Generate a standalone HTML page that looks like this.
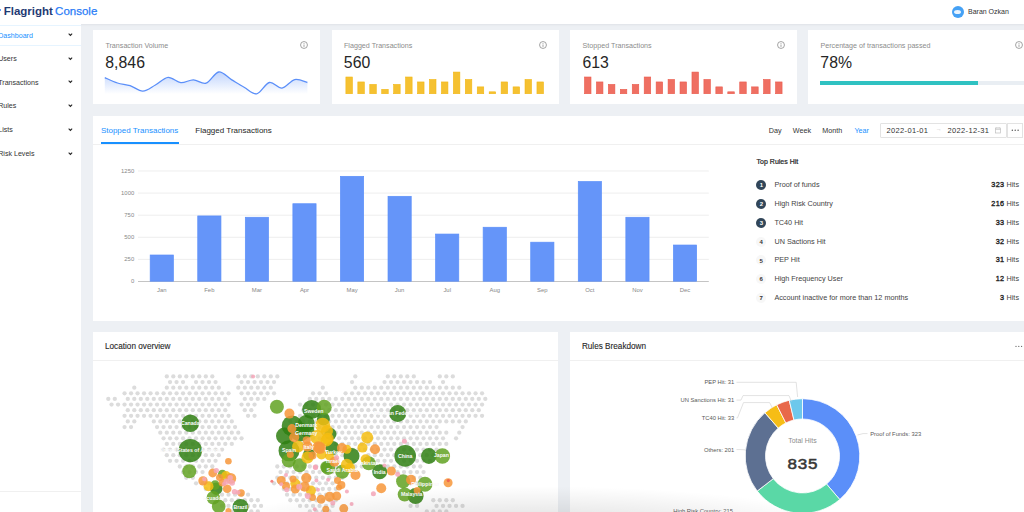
<!DOCTYPE html>
<html><head><meta charset="utf-8">
<style>
*{box-sizing:border-box;margin:0;padding:0}
html,body{width:1024px;height:512px;overflow:hidden;background:#edf0f4;font-family:"Liberation Sans",Arial,sans-serif;color:#262626}
.abs{position:absolute}
.tx{position:absolute;line-height:1;white-space:nowrap}
.card{position:absolute;background:#fff}
svg{position:absolute;overflow:visible}
svg text{font-family:"Liberation Sans",Arial,sans-serif}
</style></head><body>

<div class="abs" style="left:0;top:0;width:1024px;height:24px;background:#fff;box-shadow:0 1px 2px rgba(0,21,41,0.06)"></div>
<div class="abs" style="left:-1.2px;top:8.8px;width:2.6px;height:2.6px;border-radius:50%;background:#2f7bf5"></div>
<div class="tx" style="left:3.7px;top:6.3px;font-size:11.5px;letter-spacing:0px"><span style="font-weight:bold;color:#1f3a73">Flagright</span><span style="color:#2a7cf7;margin-left:2.2px;-webkit-text-stroke:0.25px #2a7cf7">Console</span></div>
<div class="abs" style="left:951.8px;top:5.9px;width:12px;height:12px;border-radius:50%;background:#45a1f5"></div>
<div class="abs" style="left:954.3px;top:10px;width:7px;height:4px;border-radius:50%;background:#e9f4ff"></div>
<div class="tx" style="left:968px;top:8.3px;font-size:7px;color:#333">Baran Ozkan</div>
<div class="abs" style="left:0;top:24px;width:81px;height:488px;background:#fff"></div>
<div class="abs" style="left:0;top:25px;width:81px;height:21px;border-top:1px solid #e6f4ff;border-bottom:1px solid #e6f4ff"></div>
<div class="abs" style="left:0;top:491px;width:81px;height:1px;background:#f0f0f0"></div>
<div class="tx" style="left:-1.8px;top:32.8px;font-size:7.1px;color:#1890ff">Dashboard</div>
<svg style="left:67.7px;top:33.4px" width="4.8" height="3.2" viewBox="0 0 4.8 3.2"><path d="M0.65 0.65 L2.4 2.4 L4.15 0.65" fill="none" stroke="#262626" stroke-width="1.05"/></svg>
<div class="tx" style="left:-1.8px;top:56.3px;font-size:7.1px;color:#333">Users</div>
<svg style="left:67.7px;top:56.9px" width="4.8" height="3.2" viewBox="0 0 4.8 3.2"><path d="M0.65 0.65 L2.4 2.4 L4.15 0.65" fill="none" stroke="#262626" stroke-width="1.05"/></svg>
<div class="tx" style="left:-1.8px;top:79.6px;font-size:7.1px;color:#333">Transactions</div>
<svg style="left:67.7px;top:80.2px" width="4.8" height="3.2" viewBox="0 0 4.8 3.2"><path d="M0.65 0.65 L2.4 2.4 L4.15 0.65" fill="none" stroke="#262626" stroke-width="1.05"/></svg>
<div class="tx" style="left:-1.8px;top:103.4px;font-size:7.1px;color:#333">Rules</div>
<svg style="left:67.7px;top:104.0px" width="4.8" height="3.2" viewBox="0 0 4.8 3.2"><path d="M0.65 0.65 L2.4 2.4 L4.15 0.65" fill="none" stroke="#262626" stroke-width="1.05"/></svg>
<div class="tx" style="left:-1.8px;top:127.2px;font-size:7.1px;color:#333">Lists</div>
<svg style="left:67.7px;top:127.8px" width="4.8" height="3.2" viewBox="0 0 4.8 3.2"><path d="M0.65 0.65 L2.4 2.4 L4.15 0.65" fill="none" stroke="#262626" stroke-width="1.05"/></svg>
<div class="tx" style="left:-1.8px;top:151.0px;font-size:7.1px;color:#333">Risk Levels</div>
<svg style="left:67.7px;top:151.6px" width="4.8" height="3.2" viewBox="0 0 4.8 3.2"><path d="M0.65 0.65 L2.4 2.4 L4.15 0.65" fill="none" stroke="#262626" stroke-width="1.05"/></svg>
<div class="card" style="left:93px;top:30px;width:227px;height:74px"></div>
<div class="tx" style="left:105.4px;top:42.9px;font-size:7.15px;color:#8c8c8c">Transaction Volume</div>
<div class="tx" style="left:105.2px;top:54.7px;font-size:15.8px;letter-spacing:0.05px;color:#262626">8,846</div>
<svg style="left:300.00px;top:41.20px" width="8" height="8" viewBox="0 0 8 8"><circle cx="4" cy="4" r="3.45" fill="none" stroke="#8c8c8c" stroke-width="0.8"/><rect x="3.6" y="3.5" width="0.8" height="2.4" fill="#8c8c8c"/><rect x="3.6" y="2.1" width="0.8" height="0.8" fill="#8c8c8c"/></svg>
<div class="card" style="left:331.6px;top:30px;width:227px;height:74px"></div>
<div class="tx" style="left:344.0px;top:42.9px;font-size:7.15px;color:#8c8c8c">Flagged Transactions</div>
<div class="tx" style="left:343.8px;top:54.7px;font-size:15.8px;letter-spacing:0.05px;color:#262626">560</div>
<svg style="left:538.60px;top:41.20px" width="8" height="8" viewBox="0 0 8 8"><circle cx="4" cy="4" r="3.45" fill="none" stroke="#8c8c8c" stroke-width="0.8"/><rect x="3.6" y="3.5" width="0.8" height="2.4" fill="#8c8c8c"/><rect x="3.6" y="2.1" width="0.8" height="0.8" fill="#8c8c8c"/></svg>
<div class="card" style="left:570.2px;top:30px;width:227px;height:74px"></div>
<div class="tx" style="left:582.6px;top:42.9px;font-size:7.15px;color:#8c8c8c">Stopped Transactions</div>
<div class="tx" style="left:582.4px;top:54.7px;font-size:15.8px;letter-spacing:0.05px;color:#262626">613</div>
<svg style="left:777.20px;top:41.20px" width="8" height="8" viewBox="0 0 8 8"><circle cx="4" cy="4" r="3.45" fill="none" stroke="#8c8c8c" stroke-width="0.8"/><rect x="3.6" y="3.5" width="0.8" height="2.4" fill="#8c8c8c"/><rect x="3.6" y="2.1" width="0.8" height="0.8" fill="#8c8c8c"/></svg>
<div class="card" style="left:808.1px;top:30px;width:227px;height:74px"></div>
<div class="tx" style="left:820.5px;top:42.9px;font-size:7.15px;color:#8c8c8c">Percentage of transactions passed</div>
<div class="tx" style="left:820.3px;top:54.7px;font-size:15.8px;letter-spacing:0.05px;color:#262626">78%</div>
<svg style="left:1015.10px;top:41.20px" width="8" height="8" viewBox="0 0 8 8"><circle cx="4" cy="4" r="3.45" fill="none" stroke="#8c8c8c" stroke-width="0.8"/><rect x="3.6" y="3.5" width="0.8" height="2.4" fill="#8c8c8c"/><rect x="3.6" y="2.1" width="0.8" height="0.8" fill="#8c8c8c"/></svg>
<svg style="left:0;top:0" width="1024" height="512" viewBox="0 0 1024 512">
<defs><linearGradient id="sg" x1="0" y1="0" x2="0" y2="1"><stop offset="0" stop-color="#5b8ff9" stop-opacity="0.38"/><stop offset="1" stop-color="#5b8ff9" stop-opacity="0.0"/></linearGradient></defs>
<path d="M104.80 77.60 C106.92 78.50 113.28 81.67 117.50 83.00 C121.72 84.33 125.88 84.25 130.10 85.60 C134.32 86.95 138.58 91.20 142.80 91.10 C147.02 91.00 151.18 87.28 155.40 85.00 C159.62 82.72 163.87 77.78 168.10 77.40 C172.33 77.02 176.58 82.30 180.80 82.70 C185.02 83.10 189.18 79.72 193.40 79.80 C197.62 79.88 201.88 84.50 206.10 83.20 C210.32 81.90 214.48 72.60 218.70 72.00 C222.92 71.40 227.17 77.07 231.40 79.60 C235.63 82.13 239.88 84.83 244.10 87.20 C248.32 89.57 252.48 94.58 256.70 93.80 C260.92 93.02 265.18 83.45 269.40 82.50 C273.62 81.55 277.78 88.58 282.00 88.10 C286.22 87.62 290.47 80.53 294.70 79.60 C298.93 78.67 305.28 82.02 307.40 82.50 L307.4 94 L104.8 94 Z" fill="url(#sg)"/>
<path d="M104.80 77.60 C106.92 78.50 113.28 81.67 117.50 83.00 C121.72 84.33 125.88 84.25 130.10 85.60 C134.32 86.95 138.58 91.20 142.80 91.10 C147.02 91.00 151.18 87.28 155.40 85.00 C159.62 82.72 163.87 77.78 168.10 77.40 C172.33 77.02 176.58 82.30 180.80 82.70 C185.02 83.10 189.18 79.72 193.40 79.80 C197.62 79.88 201.88 84.50 206.10 83.20 C210.32 81.90 214.48 72.60 218.70 72.00 C222.92 71.40 227.17 77.07 231.40 79.60 C235.63 82.13 239.88 84.83 244.10 87.20 C248.32 89.57 252.48 94.58 256.70 93.80 C260.92 93.02 265.18 83.45 269.40 82.50 C273.62 81.55 277.78 88.58 282.00 88.10 C286.22 87.62 290.47 80.53 294.70 79.60 C298.93 78.67 305.28 82.02 307.40 82.50" fill="none" stroke="#5b8ff9" stroke-width="1.3"/>
</svg>
<svg style="left:0;top:0" width="1024" height="512"><rect x="345.90" y="77.01" width="6.5" height="16.69" fill="#f5c131" stroke="#f2b714" stroke-width="0.6"/><rect x="357.84" y="81.95" width="6.5" height="11.75" fill="#f5c131" stroke="#f2b714" stroke-width="0.6"/><rect x="369.78" y="84.42" width="6.5" height="9.28" fill="#f5c131" stroke="#f2b714" stroke-width="0.6"/><rect x="381.72" y="89.36" width="6.5" height="4.34" fill="#f5c131" stroke="#f2b714" stroke-width="0.6"/><rect x="393.66" y="84.42" width="6.5" height="9.28" fill="#f5c131" stroke="#f2b714" stroke-width="0.6"/><rect x="405.61" y="77.01" width="6.5" height="16.69" fill="#f5c131" stroke="#f2b714" stroke-width="0.6"/><rect x="417.55" y="81.95" width="6.5" height="11.75" fill="#f5c131" stroke="#f2b714" stroke-width="0.6"/><rect x="429.49" y="79.48" width="6.5" height="14.22" fill="#f5c131" stroke="#f2b714" stroke-width="0.6"/><rect x="441.43" y="81.95" width="6.5" height="11.75" fill="#f5c131" stroke="#f2b714" stroke-width="0.6"/><rect x="453.37" y="72.07" width="6.5" height="21.63" fill="#f5c131" stroke="#f2b714" stroke-width="0.6"/><rect x="465.31" y="79.48" width="6.5" height="14.22" fill="#f5c131" stroke="#f2b714" stroke-width="0.6"/><rect x="477.25" y="86.89" width="6.5" height="6.81" fill="#f5c131" stroke="#f2b714" stroke-width="0.6"/><rect x="489.19" y="91.83" width="6.5" height="1.87" fill="#f5c131" stroke="#f2b714" stroke-width="0.6"/><rect x="501.14" y="81.95" width="6.5" height="11.75" fill="#f5c131" stroke="#f2b714" stroke-width="0.6"/><rect x="513.08" y="86.89" width="6.5" height="6.81" fill="#f5c131" stroke="#f2b714" stroke-width="0.6"/><rect x="525.02" y="79.48" width="6.5" height="14.22" fill="#f5c131" stroke="#f2b714" stroke-width="0.6"/><rect x="536.96" y="81.95" width="6.5" height="11.75" fill="#f5c131" stroke="#f2b714" stroke-width="0.6"/></svg>
<svg style="left:0;top:0" width="1024" height="512"><rect x="584.50" y="77.01" width="6.5" height="16.69" fill="#ef6f62" stroke="#ea5a4c" stroke-width="0.6"/><rect x="596.44" y="81.95" width="6.5" height="11.75" fill="#ef6f62" stroke="#ea5a4c" stroke-width="0.6"/><rect x="608.38" y="84.42" width="6.5" height="9.28" fill="#ef6f62" stroke="#ea5a4c" stroke-width="0.6"/><rect x="620.32" y="89.36" width="6.5" height="4.34" fill="#ef6f62" stroke="#ea5a4c" stroke-width="0.6"/><rect x="632.26" y="84.42" width="6.5" height="9.28" fill="#ef6f62" stroke="#ea5a4c" stroke-width="0.6"/><rect x="644.21" y="77.01" width="6.5" height="16.69" fill="#ef6f62" stroke="#ea5a4c" stroke-width="0.6"/><rect x="656.15" y="81.95" width="6.5" height="11.75" fill="#ef6f62" stroke="#ea5a4c" stroke-width="0.6"/><rect x="668.09" y="79.48" width="6.5" height="14.22" fill="#ef6f62" stroke="#ea5a4c" stroke-width="0.6"/><rect x="680.03" y="81.95" width="6.5" height="11.75" fill="#ef6f62" stroke="#ea5a4c" stroke-width="0.6"/><rect x="691.97" y="72.07" width="6.5" height="21.63" fill="#ef6f62" stroke="#ea5a4c" stroke-width="0.6"/><rect x="703.91" y="79.48" width="6.5" height="14.22" fill="#ef6f62" stroke="#ea5a4c" stroke-width="0.6"/><rect x="715.85" y="86.89" width="6.5" height="6.81" fill="#ef6f62" stroke="#ea5a4c" stroke-width="0.6"/><rect x="727.79" y="91.83" width="6.5" height="1.87" fill="#ef6f62" stroke="#ea5a4c" stroke-width="0.6"/><rect x="739.74" y="81.95" width="6.5" height="11.75" fill="#ef6f62" stroke="#ea5a4c" stroke-width="0.6"/><rect x="751.68" y="86.89" width="6.5" height="6.81" fill="#ef6f62" stroke="#ea5a4c" stroke-width="0.6"/><rect x="763.62" y="79.48" width="6.5" height="14.22" fill="#ef6f62" stroke="#ea5a4c" stroke-width="0.6"/><rect x="775.56" y="81.95" width="6.5" height="11.75" fill="#ef6f62" stroke="#ea5a4c" stroke-width="0.6"/></svg>
<div class="abs" style="left:820.1px;top:81.3px;width:204px;height:3.6px;background:#e9eef3"></div>
<div class="abs" style="left:820.1px;top:81.3px;width:158.4px;height:3.6px;background:#2fc2c2"></div>
<div class="card" style="left:93px;top:116px;width:940px;height:204.8px"></div>
<div class="abs" style="left:93px;top:144.3px;width:940px;height:1px;background:#f0f0f0"></div>
<div class="tx" style="left:100.9px;top:127px;font-size:8px;color:#1890ff">Stopped Transactions</div>
<div class="abs" style="left:100.9px;top:142.4px;width:78px;height:1.9px;background:#1890ff"></div>
<div class="tx" style="left:195.3px;top:127px;font-size:8px;color:#262626">Flagged Transactions</div>
<div class="tx" style="left:768.7px;top:126.7px;font-size:7.2px;color:#333">Day</div>
<div class="tx" style="left:792.8px;top:126.7px;font-size:7.2px;color:#333">Week</div>
<div class="tx" style="left:822.2px;top:126.7px;font-size:7.2px;color:#333">Month</div>
<div class="tx" style="left:854.4px;top:126.7px;font-size:7.2px;color:#1890ff">Year</div>
<div class="abs" style="left:880.3px;top:122.6px;width:127px;height:15.3px;border:1px solid #e3e3e3;border-radius:1px;background:#fff"></div>
<div class="abs" style="left:1006.5px;top:122.6px;width:16px;height:15.3px;border:1px solid #e3e3e3;background:#fff"></div>
<div class="tx" style="left:886.6px;top:126.5px;font-size:7.5px;color:#333;letter-spacing:0.33px">2022-01-01</div>
<div class="tx" style="left:935.8px;top:126.2px;font-size:6px;color:#bfbfbf">&#8594;</div>
<div class="tx" style="left:947.6px;top:126.5px;font-size:7.5px;color:#333;letter-spacing:0.33px">2022-12-31</div>
<svg style="left:994.6px;top:126.6px" width="6" height="6.4" viewBox="0 0 6 6.4"><rect x="0.4" y="1" width="5.2" height="5" fill="none" stroke="#bfbfbf" stroke-width="0.7"/><line x1="0.4" y1="2.5" x2="5.6" y2="2.5" stroke="#bfbfbf" stroke-width="0.6"/><line x1="1.8" y1="0.2" x2="1.8" y2="1.6" stroke="#bfbfbf" stroke-width="0.6"/><line x1="4.2" y1="0.2" x2="4.2" y2="1.6" stroke="#bfbfbf" stroke-width="0.6"/></svg>
<svg style="left:0;top:0" width="1024" height="512"><g fill="#4a4a4a"><circle cx="1012.3" cy="130.2" r="0.68"/><circle cx="1015.2" cy="130.2" r="0.68"/><circle cx="1018.1" cy="130.2" r="0.68"/></g></svg>
<svg style="left:0;top:0" width="1024" height="512"><line x1="138" y1="171.00" x2="708.8" y2="171.00" stroke="#e6e6e6" stroke-width="0.7"/><text x="134.2" y="172.90" font-size="5.9" fill="#888" text-anchor="end">1250</text><line x1="138" y1="193.10" x2="708.8" y2="193.10" stroke="#e6e6e6" stroke-width="0.7"/><text x="134.2" y="195.00" font-size="5.9" fill="#888" text-anchor="end">1000</text><line x1="138" y1="215.20" x2="708.8" y2="215.20" stroke="#e6e6e6" stroke-width="0.7"/><text x="134.2" y="217.10" font-size="5.9" fill="#888" text-anchor="end">750</text><line x1="138" y1="237.30" x2="708.8" y2="237.30" stroke="#e6e6e6" stroke-width="0.7"/><text x="134.2" y="239.20" font-size="5.9" fill="#888" text-anchor="end">500</text><line x1="138" y1="259.40" x2="708.8" y2="259.40" stroke="#e6e6e6" stroke-width="0.7"/><text x="134.2" y="261.30" font-size="5.9" fill="#888" text-anchor="end">250</text><line x1="138" y1="281.50" x2="708.8" y2="281.50" stroke="#bdbdbd" stroke-width="0.9"/><text x="134.2" y="283.40" font-size="5.9" fill="#888" text-anchor="end">0</text><rect x="150.18" y="255.01" width="23.2" height="26.19" fill="#6595f9" stroke="#5b8ff9" stroke-width="0.7"/><text x="161.78" y="291.60" font-size="5.9" fill="#888" text-anchor="middle">Jan</text><rect x="197.75" y="215.94" width="23.2" height="65.26" fill="#6595f9" stroke="#5b8ff9" stroke-width="0.7"/><text x="209.35" y="291.60" font-size="5.9" fill="#888" text-anchor="middle">Feb</text><rect x="245.32" y="217.27" width="23.2" height="63.93" fill="#6595f9" stroke="#5b8ff9" stroke-width="0.7"/><text x="256.92" y="291.60" font-size="5.9" fill="#888" text-anchor="middle">Mar</text><rect x="292.88" y="203.74" width="23.2" height="77.46" fill="#6595f9" stroke="#5b8ff9" stroke-width="0.7"/><text x="304.48" y="291.60" font-size="5.9" fill="#888" text-anchor="middle">Apr</text><rect x="340.45" y="176.34" width="23.2" height="104.86" fill="#6595f9" stroke="#5b8ff9" stroke-width="0.7"/><text x="352.05" y="291.60" font-size="5.9" fill="#888" text-anchor="middle">May</text><rect x="388.02" y="196.32" width="23.2" height="84.88" fill="#6595f9" stroke="#5b8ff9" stroke-width="0.7"/><text x="399.62" y="291.60" font-size="5.9" fill="#888" text-anchor="middle">Jun</text><rect x="435.58" y="234.06" width="23.2" height="47.14" fill="#6595f9" stroke="#5b8ff9" stroke-width="0.7"/><text x="447.18" y="291.60" font-size="5.9" fill="#888" text-anchor="middle">Jul</text><rect x="483.15" y="227.26" width="23.2" height="53.94" fill="#6595f9" stroke="#5b8ff9" stroke-width="0.7"/><text x="494.75" y="291.60" font-size="5.9" fill="#888" text-anchor="middle">Aug</text><rect x="530.72" y="242.20" width="23.2" height="39.00" fill="#6595f9" stroke="#5b8ff9" stroke-width="0.7"/><text x="542.32" y="291.60" font-size="5.9" fill="#888" text-anchor="middle">Sep</text><rect x="578.28" y="181.55" width="23.2" height="99.65" fill="#6595f9" stroke="#5b8ff9" stroke-width="0.7"/><text x="589.88" y="291.60" font-size="5.9" fill="#888" text-anchor="middle">Oct</text><rect x="625.85" y="217.27" width="23.2" height="63.93" fill="#6595f9" stroke="#5b8ff9" stroke-width="0.7"/><text x="637.45" y="291.60" font-size="5.9" fill="#888" text-anchor="middle">Nov</text><rect x="673.42" y="245.03" width="23.2" height="36.17" fill="#6595f9" stroke="#5b8ff9" stroke-width="0.7"/><text x="685.02" y="291.60" font-size="5.9" fill="#888" text-anchor="middle">Dec</text></svg>
<div class="tx" style="left:756.6px;top:158.2px;font-size:7px;color:#262626;-webkit-text-stroke:0.22px #262626">Top Rules Hit</div>
<div class="abs" style="left:756.4px;top:180.00px;width:10px;height:10px;border-radius:50%;background:#314659"></div>
<div class="tx" style="left:756.4px;top:182.10px;width:10px;text-align:center;font-size:6px;font-weight:bold;color:#fff">1</div>
<div class="tx" style="left:774.4px;top:181.00px;font-size:7.25px;color:#444">Proof of funds</div>
<div class="tx" style="right:5px;top:181.00px;font-size:7.25px;color:#444"><span style="color:#262626;letter-spacing:0.35px;-webkit-text-stroke:0.35px #262626">323</span> Hits</div>
<div class="abs" style="left:756.4px;top:198.87px;width:10px;height:10px;border-radius:50%;background:#314659"></div>
<div class="tx" style="left:756.4px;top:200.97px;width:10px;text-align:center;font-size:6px;font-weight:bold;color:#fff">2</div>
<div class="tx" style="left:774.4px;top:199.87px;font-size:7.25px;color:#444">High Risk Country</div>
<div class="tx" style="right:5px;top:199.87px;font-size:7.25px;color:#444"><span style="color:#262626;letter-spacing:0.35px;-webkit-text-stroke:0.35px #262626">216</span> Hits</div>
<div class="abs" style="left:756.4px;top:217.74px;width:10px;height:10px;border-radius:50%;background:#314659"></div>
<div class="tx" style="left:756.4px;top:219.84px;width:10px;text-align:center;font-size:6px;font-weight:bold;color:#fff">3</div>
<div class="tx" style="left:774.4px;top:218.74px;font-size:7.25px;color:#444">TC40 Hit</div>
<div class="tx" style="right:5px;top:218.74px;font-size:7.25px;color:#444"><span style="color:#262626;letter-spacing:0.35px;-webkit-text-stroke:0.35px #262626">33</span> Hits</div>
<div class="abs" style="left:756.4px;top:236.61px;width:10px;height:10px;border-radius:50%;background:#f7f7f7"></div>
<div class="tx" style="left:756.2px;top:238.71px;width:10px;text-align:center;font-size:6px;font-weight:bold;color:#333">4</div>
<div class="tx" style="left:774.4px;top:237.61px;font-size:7.25px;color:#444">UN Sactions Hit</div>
<div class="tx" style="right:5px;top:237.61px;font-size:7.25px;color:#444"><span style="color:#262626;letter-spacing:0.35px;-webkit-text-stroke:0.35px #262626">32</span> Hits</div>
<div class="abs" style="left:756.4px;top:255.48px;width:10px;height:10px;border-radius:50%;background:#f7f7f7"></div>
<div class="tx" style="left:756.2px;top:257.58px;width:10px;text-align:center;font-size:6px;font-weight:bold;color:#333">5</div>
<div class="tx" style="left:774.4px;top:256.48px;font-size:7.25px;color:#444">PEP Hit</div>
<div class="tx" style="right:5px;top:256.48px;font-size:7.25px;color:#444"><span style="color:#262626;letter-spacing:0.35px;-webkit-text-stroke:0.35px #262626">31</span> Hits</div>
<div class="abs" style="left:756.4px;top:274.35px;width:10px;height:10px;border-radius:50%;background:#f7f7f7"></div>
<div class="tx" style="left:756.2px;top:276.45px;width:10px;text-align:center;font-size:6px;font-weight:bold;color:#333">6</div>
<div class="tx" style="left:774.4px;top:275.35px;font-size:7.25px;color:#444">High Frequency User</div>
<div class="tx" style="right:5px;top:275.35px;font-size:7.25px;color:#444"><span style="color:#262626;letter-spacing:0.35px;-webkit-text-stroke:0.35px #262626">12</span> Hits</div>
<div class="abs" style="left:756.4px;top:293.22px;width:10px;height:10px;border-radius:50%;background:#f7f7f7"></div>
<div class="tx" style="left:756.2px;top:295.32px;width:10px;text-align:center;font-size:6px;font-weight:bold;color:#333">7</div>
<div class="tx" style="left:774.4px;top:294.22px;font-size:7.25px;color:#444">Account inactive for more than 12 months</div>
<div class="tx" style="right:5px;top:294.22px;font-size:7.25px;color:#444"><span style="color:#262626;letter-spacing:0.35px;-webkit-text-stroke:0.35px #262626">3</span> Hits</div>
<div class="card" style="left:93px;top:332.2px;width:465.2px;height:190px"></div>
<div class="abs" style="left:93px;top:360px;width:465.2px;height:1px;background:#f0f0f0"></div>
<div class="tx" style="left:105px;top:342.7px;font-size:8.2px;color:#262626;-webkit-text-stroke:0.1px #262626">Location overview</div>
<svg style="left:0;top:0" width="1024" height="512"><defs><clipPath id="mc"><rect x="93" y="361" width="465" height="151"/></clipPath></defs><g clip-path="url(#mc)"><g fill="#dcdcdc"><circle cx="166.80" cy="376.40" r="2.15"/><circle cx="173.30" cy="376.40" r="2.15"/><circle cx="179.80" cy="376.40" r="2.15"/><circle cx="186.30" cy="376.40" r="2.15"/><circle cx="192.80" cy="376.40" r="2.15"/><circle cx="199.30" cy="376.40" r="2.15"/><circle cx="205.80" cy="376.40" r="2.15"/><circle cx="212.30" cy="376.40" r="2.15"/><circle cx="238.30" cy="376.40" r="2.15"/><circle cx="244.80" cy="376.40" r="2.15"/><circle cx="251.30" cy="376.40" r="2.15"/><circle cx="257.80" cy="376.40" r="2.15"/><circle cx="264.30" cy="376.40" r="2.15"/><circle cx="270.80" cy="376.40" r="2.15"/><circle cx="277.30" cy="376.40" r="2.15"/><circle cx="355.30" cy="376.40" r="2.15"/><circle cx="387.80" cy="376.40" r="2.15"/><circle cx="394.30" cy="376.40" r="2.15"/><circle cx="400.80" cy="376.40" r="2.15"/><circle cx="407.30" cy="376.40" r="2.15"/><circle cx="413.80" cy="376.40" r="2.15"/><circle cx="439.80" cy="376.40" r="2.15"/><circle cx="446.30" cy="376.40" r="2.15"/><circle cx="452.80" cy="376.40" r="2.15"/><circle cx="170.05" cy="382.03" r="2.15"/><circle cx="176.55" cy="382.03" r="2.15"/><circle cx="183.05" cy="382.03" r="2.15"/><circle cx="196.05" cy="382.03" r="2.15"/><circle cx="202.55" cy="382.03" r="2.15"/><circle cx="209.05" cy="382.03" r="2.15"/><circle cx="215.55" cy="382.03" r="2.15"/><circle cx="241.55" cy="382.03" r="2.15"/><circle cx="248.05" cy="382.03" r="2.15"/><circle cx="254.55" cy="382.03" r="2.15"/><circle cx="261.05" cy="382.03" r="2.15"/><circle cx="267.55" cy="382.03" r="2.15"/><circle cx="274.05" cy="382.03" r="2.15"/><circle cx="352.05" cy="382.03" r="2.15"/><circle cx="384.55" cy="382.03" r="2.15"/><circle cx="391.05" cy="382.03" r="2.15"/><circle cx="397.55" cy="382.03" r="2.15"/><circle cx="404.05" cy="382.03" r="2.15"/><circle cx="410.55" cy="382.03" r="2.15"/><circle cx="417.05" cy="382.03" r="2.15"/><circle cx="423.55" cy="382.03" r="2.15"/><circle cx="430.05" cy="382.03" r="2.15"/><circle cx="443.05" cy="382.03" r="2.15"/><circle cx="134.30" cy="387.66" r="2.15"/><circle cx="166.80" cy="387.66" r="2.15"/><circle cx="173.30" cy="387.66" r="2.15"/><circle cx="179.80" cy="387.66" r="2.15"/><circle cx="186.30" cy="387.66" r="2.15"/><circle cx="192.80" cy="387.66" r="2.15"/><circle cx="199.30" cy="387.66" r="2.15"/><circle cx="205.80" cy="387.66" r="2.15"/><circle cx="212.30" cy="387.66" r="2.15"/><circle cx="218.80" cy="387.66" r="2.15"/><circle cx="238.30" cy="387.66" r="2.15"/><circle cx="244.80" cy="387.66" r="2.15"/><circle cx="251.30" cy="387.66" r="2.15"/><circle cx="257.80" cy="387.66" r="2.15"/><circle cx="264.30" cy="387.66" r="2.15"/><circle cx="270.80" cy="387.66" r="2.15"/><circle cx="322.80" cy="387.66" r="2.15"/><circle cx="355.30" cy="387.66" r="2.15"/><circle cx="361.80" cy="387.66" r="2.15"/><circle cx="368.30" cy="387.66" r="2.15"/><circle cx="374.80" cy="387.66" r="2.15"/><circle cx="381.30" cy="387.66" r="2.15"/><circle cx="387.80" cy="387.66" r="2.15"/><circle cx="394.30" cy="387.66" r="2.15"/><circle cx="400.80" cy="387.66" r="2.15"/><circle cx="407.30" cy="387.66" r="2.15"/><circle cx="413.80" cy="387.66" r="2.15"/><circle cx="420.30" cy="387.66" r="2.15"/><circle cx="426.80" cy="387.66" r="2.15"/><circle cx="433.30" cy="387.66" r="2.15"/><circle cx="439.80" cy="387.66" r="2.15"/><circle cx="446.30" cy="387.66" r="2.15"/><circle cx="452.80" cy="387.66" r="2.15"/><circle cx="459.30" cy="387.66" r="2.15"/><circle cx="124.55" cy="393.29" r="2.15"/><circle cx="131.05" cy="393.29" r="2.15"/><circle cx="137.55" cy="393.29" r="2.15"/><circle cx="144.05" cy="393.29" r="2.15"/><circle cx="150.55" cy="393.29" r="2.15"/><circle cx="157.05" cy="393.29" r="2.15"/><circle cx="163.55" cy="393.29" r="2.15"/><circle cx="170.05" cy="393.29" r="2.15"/><circle cx="176.55" cy="393.29" r="2.15"/><circle cx="183.05" cy="393.29" r="2.15"/><circle cx="189.55" cy="393.29" r="2.15"/><circle cx="196.05" cy="393.29" r="2.15"/><circle cx="202.55" cy="393.29" r="2.15"/><circle cx="209.05" cy="393.29" r="2.15"/><circle cx="215.55" cy="393.29" r="2.15"/><circle cx="222.05" cy="393.29" r="2.15"/><circle cx="228.55" cy="393.29" r="2.15"/><circle cx="241.55" cy="393.29" r="2.15"/><circle cx="248.05" cy="393.29" r="2.15"/><circle cx="254.55" cy="393.29" r="2.15"/><circle cx="261.05" cy="393.29" r="2.15"/><circle cx="267.55" cy="393.29" r="2.15"/><circle cx="274.05" cy="393.29" r="2.15"/><circle cx="313.05" cy="393.29" r="2.15"/><circle cx="319.55" cy="393.29" r="2.15"/><circle cx="326.05" cy="393.29" r="2.15"/><circle cx="345.55" cy="393.29" r="2.15"/><circle cx="352.05" cy="393.29" r="2.15"/><circle cx="358.55" cy="393.29" r="2.15"/><circle cx="365.05" cy="393.29" r="2.15"/><circle cx="371.55" cy="393.29" r="2.15"/><circle cx="378.05" cy="393.29" r="2.15"/><circle cx="384.55" cy="393.29" r="2.15"/><circle cx="391.05" cy="393.29" r="2.15"/><circle cx="397.55" cy="393.29" r="2.15"/><circle cx="404.05" cy="393.29" r="2.15"/><circle cx="410.55" cy="393.29" r="2.15"/><circle cx="417.05" cy="393.29" r="2.15"/><circle cx="423.55" cy="393.29" r="2.15"/><circle cx="430.05" cy="393.29" r="2.15"/><circle cx="436.55" cy="393.29" r="2.15"/><circle cx="443.05" cy="393.29" r="2.15"/><circle cx="449.55" cy="393.29" r="2.15"/><circle cx="456.05" cy="393.29" r="2.15"/><circle cx="462.55" cy="393.29" r="2.15"/><circle cx="469.05" cy="393.29" r="2.15"/><circle cx="475.55" cy="393.29" r="2.15"/><circle cx="482.05" cy="393.29" r="2.15"/><circle cx="108.30" cy="398.92" r="2.15"/><circle cx="114.80" cy="398.92" r="2.15"/><circle cx="127.80" cy="398.92" r="2.15"/><circle cx="134.30" cy="398.92" r="2.15"/><circle cx="140.80" cy="398.92" r="2.15"/><circle cx="147.30" cy="398.92" r="2.15"/><circle cx="153.80" cy="398.92" r="2.15"/><circle cx="160.30" cy="398.92" r="2.15"/><circle cx="166.80" cy="398.92" r="2.15"/><circle cx="173.30" cy="398.92" r="2.15"/><circle cx="179.80" cy="398.92" r="2.15"/><circle cx="186.30" cy="398.92" r="2.15"/><circle cx="192.80" cy="398.92" r="2.15"/><circle cx="199.30" cy="398.92" r="2.15"/><circle cx="205.80" cy="398.92" r="2.15"/><circle cx="212.30" cy="398.92" r="2.15"/><circle cx="218.80" cy="398.92" r="2.15"/><circle cx="225.30" cy="398.92" r="2.15"/><circle cx="244.80" cy="398.92" r="2.15"/><circle cx="251.30" cy="398.92" r="2.15"/><circle cx="257.80" cy="398.92" r="2.15"/><circle cx="264.30" cy="398.92" r="2.15"/><circle cx="309.80" cy="398.92" r="2.15"/><circle cx="316.30" cy="398.92" r="2.15"/><circle cx="322.80" cy="398.92" r="2.15"/><circle cx="329.30" cy="398.92" r="2.15"/><circle cx="335.80" cy="398.92" r="2.15"/><circle cx="342.30" cy="398.92" r="2.15"/><circle cx="348.80" cy="398.92" r="2.15"/><circle cx="355.30" cy="398.92" r="2.15"/><circle cx="361.80" cy="398.92" r="2.15"/><circle cx="368.30" cy="398.92" r="2.15"/><circle cx="374.80" cy="398.92" r="2.15"/><circle cx="381.30" cy="398.92" r="2.15"/><circle cx="387.80" cy="398.92" r="2.15"/><circle cx="394.30" cy="398.92" r="2.15"/><circle cx="400.80" cy="398.92" r="2.15"/><circle cx="407.30" cy="398.92" r="2.15"/><circle cx="413.80" cy="398.92" r="2.15"/><circle cx="420.30" cy="398.92" r="2.15"/><circle cx="426.80" cy="398.92" r="2.15"/><circle cx="433.30" cy="398.92" r="2.15"/><circle cx="439.80" cy="398.92" r="2.15"/><circle cx="446.30" cy="398.92" r="2.15"/><circle cx="452.80" cy="398.92" r="2.15"/><circle cx="459.30" cy="398.92" r="2.15"/><circle cx="465.80" cy="398.92" r="2.15"/><circle cx="472.30" cy="398.92" r="2.15"/><circle cx="478.80" cy="398.92" r="2.15"/><circle cx="485.30" cy="398.92" r="2.15"/><circle cx="111.55" cy="404.55" r="2.15"/><circle cx="118.05" cy="404.55" r="2.15"/><circle cx="124.55" cy="404.55" r="2.15"/><circle cx="131.05" cy="404.55" r="2.15"/><circle cx="137.55" cy="404.55" r="2.15"/><circle cx="144.05" cy="404.55" r="2.15"/><circle cx="150.55" cy="404.55" r="2.15"/><circle cx="157.05" cy="404.55" r="2.15"/><circle cx="163.55" cy="404.55" r="2.15"/><circle cx="170.05" cy="404.55" r="2.15"/><circle cx="176.55" cy="404.55" r="2.15"/><circle cx="183.05" cy="404.55" r="2.15"/><circle cx="189.55" cy="404.55" r="2.15"/><circle cx="196.05" cy="404.55" r="2.15"/><circle cx="202.55" cy="404.55" r="2.15"/><circle cx="209.05" cy="404.55" r="2.15"/><circle cx="215.55" cy="404.55" r="2.15"/><circle cx="222.05" cy="404.55" r="2.15"/><circle cx="228.55" cy="404.55" r="2.15"/><circle cx="241.55" cy="404.55" r="2.15"/><circle cx="248.05" cy="404.55" r="2.15"/><circle cx="254.55" cy="404.55" r="2.15"/><circle cx="300.05" cy="404.55" r="2.15"/><circle cx="306.55" cy="404.55" r="2.15"/><circle cx="313.05" cy="404.55" r="2.15"/><circle cx="319.55" cy="404.55" r="2.15"/><circle cx="326.05" cy="404.55" r="2.15"/><circle cx="332.55" cy="404.55" r="2.15"/><circle cx="339.05" cy="404.55" r="2.15"/><circle cx="345.55" cy="404.55" r="2.15"/><circle cx="352.05" cy="404.55" r="2.15"/><circle cx="358.55" cy="404.55" r="2.15"/><circle cx="365.05" cy="404.55" r="2.15"/><circle cx="371.55" cy="404.55" r="2.15"/><circle cx="378.05" cy="404.55" r="2.15"/><circle cx="384.55" cy="404.55" r="2.15"/><circle cx="391.05" cy="404.55" r="2.15"/><circle cx="397.55" cy="404.55" r="2.15"/><circle cx="404.05" cy="404.55" r="2.15"/><circle cx="410.55" cy="404.55" r="2.15"/><circle cx="417.05" cy="404.55" r="2.15"/><circle cx="423.55" cy="404.55" r="2.15"/><circle cx="430.05" cy="404.55" r="2.15"/><circle cx="436.55" cy="404.55" r="2.15"/><circle cx="443.05" cy="404.55" r="2.15"/><circle cx="449.55" cy="404.55" r="2.15"/><circle cx="456.05" cy="404.55" r="2.15"/><circle cx="462.55" cy="404.55" r="2.15"/><circle cx="469.05" cy="404.55" r="2.15"/><circle cx="475.55" cy="404.55" r="2.15"/><circle cx="482.05" cy="404.55" r="2.15"/><circle cx="127.80" cy="410.18" r="2.15"/><circle cx="134.30" cy="410.18" r="2.15"/><circle cx="140.80" cy="410.18" r="2.15"/><circle cx="147.30" cy="410.18" r="2.15"/><circle cx="153.80" cy="410.18" r="2.15"/><circle cx="160.30" cy="410.18" r="2.15"/><circle cx="166.80" cy="410.18" r="2.15"/><circle cx="173.30" cy="410.18" r="2.15"/><circle cx="179.80" cy="410.18" r="2.15"/><circle cx="186.30" cy="410.18" r="2.15"/><circle cx="192.80" cy="410.18" r="2.15"/><circle cx="199.30" cy="410.18" r="2.15"/><circle cx="205.80" cy="410.18" r="2.15"/><circle cx="212.30" cy="410.18" r="2.15"/><circle cx="218.80" cy="410.18" r="2.15"/><circle cx="225.30" cy="410.18" r="2.15"/><circle cx="244.80" cy="410.18" r="2.15"/><circle cx="251.30" cy="410.18" r="2.15"/><circle cx="303.30" cy="410.18" r="2.15"/><circle cx="309.80" cy="410.18" r="2.15"/><circle cx="316.30" cy="410.18" r="2.15"/><circle cx="322.80" cy="410.18" r="2.15"/><circle cx="329.30" cy="410.18" r="2.15"/><circle cx="335.80" cy="410.18" r="2.15"/><circle cx="342.30" cy="410.18" r="2.15"/><circle cx="348.80" cy="410.18" r="2.15"/><circle cx="355.30" cy="410.18" r="2.15"/><circle cx="361.80" cy="410.18" r="2.15"/><circle cx="368.30" cy="410.18" r="2.15"/><circle cx="374.80" cy="410.18" r="2.15"/><circle cx="381.30" cy="410.18" r="2.15"/><circle cx="387.80" cy="410.18" r="2.15"/><circle cx="394.30" cy="410.18" r="2.15"/><circle cx="400.80" cy="410.18" r="2.15"/><circle cx="407.30" cy="410.18" r="2.15"/><circle cx="413.80" cy="410.18" r="2.15"/><circle cx="420.30" cy="410.18" r="2.15"/><circle cx="426.80" cy="410.18" r="2.15"/><circle cx="433.30" cy="410.18" r="2.15"/><circle cx="439.80" cy="410.18" r="2.15"/><circle cx="446.30" cy="410.18" r="2.15"/><circle cx="452.80" cy="410.18" r="2.15"/><circle cx="459.30" cy="410.18" r="2.15"/><circle cx="465.80" cy="410.18" r="2.15"/><circle cx="472.30" cy="410.18" r="2.15"/><circle cx="478.80" cy="410.18" r="2.15"/><circle cx="124.55" cy="415.81" r="2.15"/><circle cx="131.05" cy="415.81" r="2.15"/><circle cx="137.55" cy="415.81" r="2.15"/><circle cx="144.05" cy="415.81" r="2.15"/><circle cx="150.55" cy="415.81" r="2.15"/><circle cx="157.05" cy="415.81" r="2.15"/><circle cx="163.55" cy="415.81" r="2.15"/><circle cx="170.05" cy="415.81" r="2.15"/><circle cx="176.55" cy="415.81" r="2.15"/><circle cx="183.05" cy="415.81" r="2.15"/><circle cx="189.55" cy="415.81" r="2.15"/><circle cx="196.05" cy="415.81" r="2.15"/><circle cx="202.55" cy="415.81" r="2.15"/><circle cx="209.05" cy="415.81" r="2.15"/><circle cx="215.55" cy="415.81" r="2.15"/><circle cx="222.05" cy="415.81" r="2.15"/><circle cx="228.55" cy="415.81" r="2.15"/><circle cx="248.05" cy="415.81" r="2.15"/><circle cx="254.55" cy="415.81" r="2.15"/><circle cx="300.05" cy="415.81" r="2.15"/><circle cx="306.55" cy="415.81" r="2.15"/><circle cx="313.05" cy="415.81" r="2.15"/><circle cx="319.55" cy="415.81" r="2.15"/><circle cx="326.05" cy="415.81" r="2.15"/><circle cx="332.55" cy="415.81" r="2.15"/><circle cx="339.05" cy="415.81" r="2.15"/><circle cx="345.55" cy="415.81" r="2.15"/><circle cx="352.05" cy="415.81" r="2.15"/><circle cx="358.55" cy="415.81" r="2.15"/><circle cx="365.05" cy="415.81" r="2.15"/><circle cx="371.55" cy="415.81" r="2.15"/><circle cx="378.05" cy="415.81" r="2.15"/><circle cx="384.55" cy="415.81" r="2.15"/><circle cx="391.05" cy="415.81" r="2.15"/><circle cx="397.55" cy="415.81" r="2.15"/><circle cx="404.05" cy="415.81" r="2.15"/><circle cx="410.55" cy="415.81" r="2.15"/><circle cx="417.05" cy="415.81" r="2.15"/><circle cx="423.55" cy="415.81" r="2.15"/><circle cx="430.05" cy="415.81" r="2.15"/><circle cx="436.55" cy="415.81" r="2.15"/><circle cx="443.05" cy="415.81" r="2.15"/><circle cx="449.55" cy="415.81" r="2.15"/><circle cx="456.05" cy="415.81" r="2.15"/><circle cx="462.55" cy="415.81" r="2.15"/><circle cx="469.05" cy="415.81" r="2.15"/><circle cx="475.55" cy="415.81" r="2.15"/><circle cx="482.05" cy="415.81" r="2.15"/><circle cx="127.80" cy="421.44" r="2.15"/><circle cx="134.30" cy="421.44" r="2.15"/><circle cx="153.80" cy="421.44" r="2.15"/><circle cx="160.30" cy="421.44" r="2.15"/><circle cx="166.80" cy="421.44" r="2.15"/><circle cx="173.30" cy="421.44" r="2.15"/><circle cx="179.80" cy="421.44" r="2.15"/><circle cx="186.30" cy="421.44" r="2.15"/><circle cx="192.80" cy="421.44" r="2.15"/><circle cx="199.30" cy="421.44" r="2.15"/><circle cx="205.80" cy="421.44" r="2.15"/><circle cx="212.30" cy="421.44" r="2.15"/><circle cx="218.80" cy="421.44" r="2.15"/><circle cx="225.30" cy="421.44" r="2.15"/><circle cx="231.80" cy="421.44" r="2.15"/><circle cx="290.30" cy="421.44" r="2.15"/><circle cx="296.80" cy="421.44" r="2.15"/><circle cx="303.30" cy="421.44" r="2.15"/><circle cx="309.80" cy="421.44" r="2.15"/><circle cx="316.30" cy="421.44" r="2.15"/><circle cx="322.80" cy="421.44" r="2.15"/><circle cx="329.30" cy="421.44" r="2.15"/><circle cx="335.80" cy="421.44" r="2.15"/><circle cx="342.30" cy="421.44" r="2.15"/><circle cx="348.80" cy="421.44" r="2.15"/><circle cx="355.30" cy="421.44" r="2.15"/><circle cx="361.80" cy="421.44" r="2.15"/><circle cx="368.30" cy="421.44" r="2.15"/><circle cx="374.80" cy="421.44" r="2.15"/><circle cx="381.30" cy="421.44" r="2.15"/><circle cx="387.80" cy="421.44" r="2.15"/><circle cx="394.30" cy="421.44" r="2.15"/><circle cx="400.80" cy="421.44" r="2.15"/><circle cx="407.30" cy="421.44" r="2.15"/><circle cx="413.80" cy="421.44" r="2.15"/><circle cx="420.30" cy="421.44" r="2.15"/><circle cx="426.80" cy="421.44" r="2.15"/><circle cx="433.30" cy="421.44" r="2.15"/><circle cx="439.80" cy="421.44" r="2.15"/><circle cx="446.30" cy="421.44" r="2.15"/><circle cx="452.80" cy="421.44" r="2.15"/><circle cx="459.30" cy="421.44" r="2.15"/><circle cx="465.80" cy="421.44" r="2.15"/><circle cx="124.55" cy="427.07" r="2.15"/><circle cx="131.05" cy="427.07" r="2.15"/><circle cx="157.05" cy="427.07" r="2.15"/><circle cx="163.55" cy="427.07" r="2.15"/><circle cx="170.05" cy="427.07" r="2.15"/><circle cx="176.55" cy="427.07" r="2.15"/><circle cx="183.05" cy="427.07" r="2.15"/><circle cx="189.55" cy="427.07" r="2.15"/><circle cx="196.05" cy="427.07" r="2.15"/><circle cx="202.55" cy="427.07" r="2.15"/><circle cx="209.05" cy="427.07" r="2.15"/><circle cx="215.55" cy="427.07" r="2.15"/><circle cx="222.05" cy="427.07" r="2.15"/><circle cx="228.55" cy="427.07" r="2.15"/><circle cx="235.05" cy="427.07" r="2.15"/><circle cx="293.55" cy="427.07" r="2.15"/><circle cx="300.05" cy="427.07" r="2.15"/><circle cx="306.55" cy="427.07" r="2.15"/><circle cx="313.05" cy="427.07" r="2.15"/><circle cx="319.55" cy="427.07" r="2.15"/><circle cx="326.05" cy="427.07" r="2.15"/><circle cx="332.55" cy="427.07" r="2.15"/><circle cx="339.05" cy="427.07" r="2.15"/><circle cx="345.55" cy="427.07" r="2.15"/><circle cx="352.05" cy="427.07" r="2.15"/><circle cx="358.55" cy="427.07" r="2.15"/><circle cx="365.05" cy="427.07" r="2.15"/><circle cx="371.55" cy="427.07" r="2.15"/><circle cx="378.05" cy="427.07" r="2.15"/><circle cx="384.55" cy="427.07" r="2.15"/><circle cx="391.05" cy="427.07" r="2.15"/><circle cx="397.55" cy="427.07" r="2.15"/><circle cx="404.05" cy="427.07" r="2.15"/><circle cx="410.55" cy="427.07" r="2.15"/><circle cx="417.05" cy="427.07" r="2.15"/><circle cx="423.55" cy="427.07" r="2.15"/><circle cx="430.05" cy="427.07" r="2.15"/><circle cx="436.55" cy="427.07" r="2.15"/><circle cx="462.55" cy="427.07" r="2.15"/><circle cx="160.30" cy="432.70" r="2.15"/><circle cx="166.80" cy="432.70" r="2.15"/><circle cx="173.30" cy="432.70" r="2.15"/><circle cx="179.80" cy="432.70" r="2.15"/><circle cx="186.30" cy="432.70" r="2.15"/><circle cx="192.80" cy="432.70" r="2.15"/><circle cx="199.30" cy="432.70" r="2.15"/><circle cx="205.80" cy="432.70" r="2.15"/><circle cx="212.30" cy="432.70" r="2.15"/><circle cx="218.80" cy="432.70" r="2.15"/><circle cx="225.30" cy="432.70" r="2.15"/><circle cx="231.80" cy="432.70" r="2.15"/><circle cx="238.30" cy="432.70" r="2.15"/><circle cx="290.30" cy="432.70" r="2.15"/><circle cx="296.80" cy="432.70" r="2.15"/><circle cx="303.30" cy="432.70" r="2.15"/><circle cx="309.80" cy="432.70" r="2.15"/><circle cx="316.30" cy="432.70" r="2.15"/><circle cx="322.80" cy="432.70" r="2.15"/><circle cx="329.30" cy="432.70" r="2.15"/><circle cx="335.80" cy="432.70" r="2.15"/><circle cx="342.30" cy="432.70" r="2.15"/><circle cx="348.80" cy="432.70" r="2.15"/><circle cx="355.30" cy="432.70" r="2.15"/><circle cx="361.80" cy="432.70" r="2.15"/><circle cx="368.30" cy="432.70" r="2.15"/><circle cx="374.80" cy="432.70" r="2.15"/><circle cx="381.30" cy="432.70" r="2.15"/><circle cx="387.80" cy="432.70" r="2.15"/><circle cx="394.30" cy="432.70" r="2.15"/><circle cx="400.80" cy="432.70" r="2.15"/><circle cx="407.30" cy="432.70" r="2.15"/><circle cx="413.80" cy="432.70" r="2.15"/><circle cx="420.30" cy="432.70" r="2.15"/><circle cx="426.80" cy="432.70" r="2.15"/><circle cx="433.30" cy="432.70" r="2.15"/><circle cx="439.80" cy="432.70" r="2.15"/><circle cx="446.30" cy="432.70" r="2.15"/><circle cx="459.30" cy="432.70" r="2.15"/><circle cx="163.55" cy="438.33" r="2.15"/><circle cx="170.05" cy="438.33" r="2.15"/><circle cx="176.55" cy="438.33" r="2.15"/><circle cx="183.05" cy="438.33" r="2.15"/><circle cx="189.55" cy="438.33" r="2.15"/><circle cx="196.05" cy="438.33" r="2.15"/><circle cx="202.55" cy="438.33" r="2.15"/><circle cx="209.05" cy="438.33" r="2.15"/><circle cx="215.55" cy="438.33" r="2.15"/><circle cx="222.05" cy="438.33" r="2.15"/><circle cx="228.55" cy="438.33" r="2.15"/><circle cx="235.05" cy="438.33" r="2.15"/><circle cx="241.55" cy="438.33" r="2.15"/><circle cx="293.55" cy="438.33" r="2.15"/><circle cx="300.05" cy="438.33" r="2.15"/><circle cx="306.55" cy="438.33" r="2.15"/><circle cx="313.05" cy="438.33" r="2.15"/><circle cx="319.55" cy="438.33" r="2.15"/><circle cx="326.05" cy="438.33" r="2.15"/><circle cx="332.55" cy="438.33" r="2.15"/><circle cx="339.05" cy="438.33" r="2.15"/><circle cx="345.55" cy="438.33" r="2.15"/><circle cx="352.05" cy="438.33" r="2.15"/><circle cx="358.55" cy="438.33" r="2.15"/><circle cx="365.05" cy="438.33" r="2.15"/><circle cx="371.55" cy="438.33" r="2.15"/><circle cx="378.05" cy="438.33" r="2.15"/><circle cx="384.55" cy="438.33" r="2.15"/><circle cx="391.05" cy="438.33" r="2.15"/><circle cx="397.55" cy="438.33" r="2.15"/><circle cx="404.05" cy="438.33" r="2.15"/><circle cx="410.55" cy="438.33" r="2.15"/><circle cx="417.05" cy="438.33" r="2.15"/><circle cx="423.55" cy="438.33" r="2.15"/><circle cx="430.05" cy="438.33" r="2.15"/><circle cx="436.55" cy="438.33" r="2.15"/><circle cx="443.05" cy="438.33" r="2.15"/><circle cx="456.05" cy="438.33" r="2.15"/><circle cx="166.80" cy="443.96" r="2.15"/><circle cx="173.30" cy="443.96" r="2.15"/><circle cx="179.80" cy="443.96" r="2.15"/><circle cx="186.30" cy="443.96" r="2.15"/><circle cx="192.80" cy="443.96" r="2.15"/><circle cx="199.30" cy="443.96" r="2.15"/><circle cx="205.80" cy="443.96" r="2.15"/><circle cx="212.30" cy="443.96" r="2.15"/><circle cx="218.80" cy="443.96" r="2.15"/><circle cx="225.30" cy="443.96" r="2.15"/><circle cx="231.80" cy="443.96" r="2.15"/><circle cx="296.80" cy="443.96" r="2.15"/><circle cx="303.30" cy="443.96" r="2.15"/><circle cx="309.80" cy="443.96" r="2.15"/><circle cx="316.30" cy="443.96" r="2.15"/><circle cx="322.80" cy="443.96" r="2.15"/><circle cx="329.30" cy="443.96" r="2.15"/><circle cx="335.80" cy="443.96" r="2.15"/><circle cx="342.30" cy="443.96" r="2.15"/><circle cx="348.80" cy="443.96" r="2.15"/><circle cx="355.30" cy="443.96" r="2.15"/><circle cx="361.80" cy="443.96" r="2.15"/><circle cx="368.30" cy="443.96" r="2.15"/><circle cx="374.80" cy="443.96" r="2.15"/><circle cx="381.30" cy="443.96" r="2.15"/><circle cx="387.80" cy="443.96" r="2.15"/><circle cx="394.30" cy="443.96" r="2.15"/><circle cx="400.80" cy="443.96" r="2.15"/><circle cx="407.30" cy="443.96" r="2.15"/><circle cx="413.80" cy="443.96" r="2.15"/><circle cx="420.30" cy="443.96" r="2.15"/><circle cx="426.80" cy="443.96" r="2.15"/><circle cx="433.30" cy="443.96" r="2.15"/><circle cx="439.80" cy="443.96" r="2.15"/><circle cx="446.30" cy="443.96" r="2.15"/><circle cx="163.55" cy="449.59" r="2.15"/><circle cx="170.05" cy="449.59" r="2.15"/><circle cx="176.55" cy="449.59" r="2.15"/><circle cx="183.05" cy="449.59" r="2.15"/><circle cx="189.55" cy="449.59" r="2.15"/><circle cx="196.05" cy="449.59" r="2.15"/><circle cx="202.55" cy="449.59" r="2.15"/><circle cx="209.05" cy="449.59" r="2.15"/><circle cx="215.55" cy="449.59" r="2.15"/><circle cx="222.05" cy="449.59" r="2.15"/><circle cx="300.05" cy="449.59" r="2.15"/><circle cx="306.55" cy="449.59" r="2.15"/><circle cx="313.05" cy="449.59" r="2.15"/><circle cx="319.55" cy="449.59" r="2.15"/><circle cx="345.55" cy="449.59" r="2.15"/><circle cx="352.05" cy="449.59" r="2.15"/><circle cx="358.55" cy="449.59" r="2.15"/><circle cx="365.05" cy="449.59" r="2.15"/><circle cx="371.55" cy="449.59" r="2.15"/><circle cx="378.05" cy="449.59" r="2.15"/><circle cx="384.55" cy="449.59" r="2.15"/><circle cx="391.05" cy="449.59" r="2.15"/><circle cx="397.55" cy="449.59" r="2.15"/><circle cx="404.05" cy="449.59" r="2.15"/><circle cx="410.55" cy="449.59" r="2.15"/><circle cx="417.05" cy="449.59" r="2.15"/><circle cx="423.55" cy="449.59" r="2.15"/><circle cx="430.05" cy="449.59" r="2.15"/><circle cx="436.55" cy="449.59" r="2.15"/><circle cx="166.80" cy="455.22" r="2.15"/><circle cx="173.30" cy="455.22" r="2.15"/><circle cx="179.80" cy="455.22" r="2.15"/><circle cx="186.30" cy="455.22" r="2.15"/><circle cx="192.80" cy="455.22" r="2.15"/><circle cx="199.30" cy="455.22" r="2.15"/><circle cx="205.80" cy="455.22" r="2.15"/><circle cx="212.30" cy="455.22" r="2.15"/><circle cx="218.80" cy="455.22" r="2.15"/><circle cx="335.80" cy="455.22" r="2.15"/><circle cx="342.30" cy="455.22" r="2.15"/><circle cx="368.30" cy="455.22" r="2.15"/><circle cx="374.80" cy="455.22" r="2.15"/><circle cx="381.30" cy="455.22" r="2.15"/><circle cx="387.80" cy="455.22" r="2.15"/><circle cx="394.30" cy="455.22" r="2.15"/><circle cx="400.80" cy="455.22" r="2.15"/><circle cx="407.30" cy="455.22" r="2.15"/><circle cx="413.80" cy="455.22" r="2.15"/><circle cx="420.30" cy="455.22" r="2.15"/><circle cx="426.80" cy="455.22" r="2.15"/><circle cx="433.30" cy="455.22" r="2.15"/><circle cx="439.80" cy="455.22" r="2.15"/><circle cx="170.05" cy="460.85" r="2.15"/><circle cx="176.55" cy="460.85" r="2.15"/><circle cx="183.05" cy="460.85" r="2.15"/><circle cx="189.55" cy="460.85" r="2.15"/><circle cx="196.05" cy="460.85" r="2.15"/><circle cx="202.55" cy="460.85" r="2.15"/><circle cx="209.05" cy="460.85" r="2.15"/><circle cx="215.55" cy="460.85" r="2.15"/><circle cx="365.05" cy="460.85" r="2.15"/><circle cx="371.55" cy="460.85" r="2.15"/><circle cx="378.05" cy="460.85" r="2.15"/><circle cx="384.55" cy="460.85" r="2.15"/><circle cx="391.05" cy="460.85" r="2.15"/><circle cx="397.55" cy="460.85" r="2.15"/><circle cx="404.05" cy="460.85" r="2.15"/><circle cx="410.55" cy="460.85" r="2.15"/><circle cx="417.05" cy="460.85" r="2.15"/><circle cx="423.55" cy="460.85" r="2.15"/><circle cx="430.05" cy="460.85" r="2.15"/><circle cx="179.80" cy="466.48" r="2.15"/><circle cx="186.30" cy="466.48" r="2.15"/><circle cx="192.80" cy="466.48" r="2.15"/><circle cx="199.30" cy="466.48" r="2.15"/><circle cx="205.80" cy="466.48" r="2.15"/><circle cx="212.30" cy="466.48" r="2.15"/><circle cx="277.30" cy="466.48" r="2.15"/><circle cx="283.80" cy="466.48" r="2.15"/><circle cx="290.30" cy="466.48" r="2.15"/><circle cx="296.80" cy="466.48" r="2.15"/><circle cx="303.30" cy="466.48" r="2.15"/><circle cx="309.80" cy="466.48" r="2.15"/><circle cx="316.30" cy="466.48" r="2.15"/><circle cx="322.80" cy="466.48" r="2.15"/><circle cx="329.30" cy="466.48" r="2.15"/><circle cx="335.80" cy="466.48" r="2.15"/><circle cx="342.30" cy="466.48" r="2.15"/><circle cx="348.80" cy="466.48" r="2.15"/><circle cx="355.30" cy="466.48" r="2.15"/><circle cx="361.80" cy="466.48" r="2.15"/><circle cx="381.30" cy="466.48" r="2.15"/><circle cx="387.80" cy="466.48" r="2.15"/><circle cx="394.30" cy="466.48" r="2.15"/><circle cx="400.80" cy="466.48" r="2.15"/><circle cx="407.30" cy="466.48" r="2.15"/><circle cx="413.80" cy="466.48" r="2.15"/><circle cx="420.30" cy="466.48" r="2.15"/><circle cx="183.05" cy="472.11" r="2.15"/><circle cx="189.55" cy="472.11" r="2.15"/><circle cx="196.05" cy="472.11" r="2.15"/><circle cx="202.55" cy="472.11" r="2.15"/><circle cx="280.55" cy="472.11" r="2.15"/><circle cx="287.05" cy="472.11" r="2.15"/><circle cx="293.55" cy="472.11" r="2.15"/><circle cx="300.05" cy="472.11" r="2.15"/><circle cx="306.55" cy="472.11" r="2.15"/><circle cx="313.05" cy="472.11" r="2.15"/><circle cx="319.55" cy="472.11" r="2.15"/><circle cx="326.05" cy="472.11" r="2.15"/><circle cx="332.55" cy="472.11" r="2.15"/><circle cx="339.05" cy="472.11" r="2.15"/><circle cx="397.55" cy="472.11" r="2.15"/><circle cx="404.05" cy="472.11" r="2.15"/><circle cx="410.55" cy="472.11" r="2.15"/><circle cx="417.05" cy="472.11" r="2.15"/><circle cx="423.55" cy="472.11" r="2.15"/><circle cx="186.30" cy="477.74" r="2.15"/><circle cx="192.80" cy="477.74" r="2.15"/><circle cx="277.30" cy="477.74" r="2.15"/><circle cx="283.80" cy="477.74" r="2.15"/><circle cx="290.30" cy="477.74" r="2.15"/><circle cx="296.80" cy="477.74" r="2.15"/><circle cx="303.30" cy="477.74" r="2.15"/><circle cx="309.80" cy="477.74" r="2.15"/><circle cx="316.30" cy="477.74" r="2.15"/><circle cx="322.80" cy="477.74" r="2.15"/><circle cx="329.30" cy="477.74" r="2.15"/><circle cx="335.80" cy="477.74" r="2.15"/><circle cx="342.30" cy="477.74" r="2.15"/><circle cx="407.30" cy="477.74" r="2.15"/><circle cx="413.80" cy="477.74" r="2.15"/><circle cx="420.30" cy="477.74" r="2.15"/><circle cx="196.05" cy="483.37" r="2.15"/><circle cx="202.55" cy="483.37" r="2.15"/><circle cx="209.05" cy="483.37" r="2.15"/><circle cx="274.05" cy="483.37" r="2.15"/><circle cx="280.55" cy="483.37" r="2.15"/><circle cx="287.05" cy="483.37" r="2.15"/><circle cx="293.55" cy="483.37" r="2.15"/><circle cx="300.05" cy="483.37" r="2.15"/><circle cx="306.55" cy="483.37" r="2.15"/><circle cx="313.05" cy="483.37" r="2.15"/><circle cx="319.55" cy="483.37" r="2.15"/><circle cx="326.05" cy="483.37" r="2.15"/><circle cx="332.55" cy="483.37" r="2.15"/><circle cx="410.55" cy="483.37" r="2.15"/><circle cx="417.05" cy="483.37" r="2.15"/><circle cx="205.80" cy="489.00" r="2.15"/><circle cx="212.30" cy="489.00" r="2.15"/><circle cx="283.80" cy="489.00" r="2.15"/><circle cx="290.30" cy="489.00" r="2.15"/><circle cx="296.80" cy="489.00" r="2.15"/><circle cx="303.30" cy="489.00" r="2.15"/><circle cx="309.80" cy="489.00" r="2.15"/><circle cx="316.30" cy="489.00" r="2.15"/><circle cx="322.80" cy="489.00" r="2.15"/><circle cx="329.30" cy="489.00" r="2.15"/><circle cx="335.80" cy="489.00" r="2.15"/><circle cx="215.55" cy="494.63" r="2.15"/><circle cx="222.05" cy="494.63" r="2.15"/><circle cx="228.55" cy="494.63" r="2.15"/><circle cx="235.05" cy="494.63" r="2.15"/><circle cx="241.55" cy="494.63" r="2.15"/><circle cx="248.05" cy="494.63" r="2.15"/><circle cx="287.05" cy="494.63" r="2.15"/><circle cx="293.55" cy="494.63" r="2.15"/><circle cx="300.05" cy="494.63" r="2.15"/><circle cx="306.55" cy="494.63" r="2.15"/><circle cx="313.05" cy="494.63" r="2.15"/><circle cx="319.55" cy="494.63" r="2.15"/><circle cx="326.05" cy="494.63" r="2.15"/><circle cx="332.55" cy="494.63" r="2.15"/><circle cx="218.80" cy="500.26" r="2.15"/><circle cx="225.30" cy="500.26" r="2.15"/><circle cx="231.80" cy="500.26" r="2.15"/><circle cx="238.30" cy="500.26" r="2.15"/><circle cx="244.80" cy="500.26" r="2.15"/><circle cx="251.30" cy="500.26" r="2.15"/><circle cx="257.80" cy="500.26" r="2.15"/><circle cx="290.30" cy="500.26" r="2.15"/><circle cx="296.80" cy="500.26" r="2.15"/><circle cx="303.30" cy="500.26" r="2.15"/><circle cx="309.80" cy="500.26" r="2.15"/><circle cx="316.30" cy="500.26" r="2.15"/><circle cx="322.80" cy="500.26" r="2.15"/><circle cx="329.30" cy="500.26" r="2.15"/><circle cx="335.80" cy="500.26" r="2.15"/><circle cx="433.30" cy="500.26" r="2.15"/><circle cx="439.80" cy="500.26" r="2.15"/><circle cx="446.30" cy="500.26" r="2.15"/><circle cx="452.80" cy="500.26" r="2.15"/><circle cx="222.05" cy="505.89" r="2.15"/><circle cx="228.55" cy="505.89" r="2.15"/><circle cx="235.05" cy="505.89" r="2.15"/><circle cx="241.55" cy="505.89" r="2.15"/><circle cx="248.05" cy="505.89" r="2.15"/><circle cx="254.55" cy="505.89" r="2.15"/><circle cx="261.05" cy="505.89" r="2.15"/><circle cx="300.05" cy="505.89" r="2.15"/><circle cx="306.55" cy="505.89" r="2.15"/><circle cx="313.05" cy="505.89" r="2.15"/><circle cx="319.55" cy="505.89" r="2.15"/><circle cx="326.05" cy="505.89" r="2.15"/><circle cx="332.55" cy="505.89" r="2.15"/><circle cx="410.55" cy="505.89" r="2.15"/><circle cx="417.05" cy="505.89" r="2.15"/><circle cx="436.55" cy="505.89" r="2.15"/><circle cx="443.05" cy="505.89" r="2.15"/><circle cx="449.55" cy="505.89" r="2.15"/><circle cx="456.05" cy="505.89" r="2.15"/><circle cx="462.55" cy="505.89" r="2.15"/><circle cx="231.80" cy="511.52" r="2.15"/><circle cx="238.30" cy="511.52" r="2.15"/><circle cx="244.80" cy="511.52" r="2.15"/><circle cx="251.30" cy="511.52" r="2.15"/><circle cx="257.80" cy="511.52" r="2.15"/><circle cx="309.80" cy="511.52" r="2.15"/><circle cx="316.30" cy="511.52" r="2.15"/><circle cx="322.80" cy="511.52" r="2.15"/><circle cx="329.30" cy="511.52" r="2.15"/><circle cx="426.80" cy="511.52" r="2.15"/><circle cx="433.30" cy="511.52" r="2.15"/><circle cx="439.80" cy="511.52" r="2.15"/><circle cx="446.30" cy="511.52" r="2.15"/><circle cx="235.05" cy="517.15" r="2.15"/><circle cx="241.55" cy="517.15" r="2.15"/><circle cx="248.05" cy="517.15" r="2.15"/><circle cx="254.55" cy="517.15" r="2.15"/><circle cx="313.05" cy="517.15" r="2.15"/><circle cx="319.55" cy="517.15" r="2.15"/><circle cx="326.05" cy="517.15" r="2.15"/><circle cx="430.05" cy="517.15" r="2.15"/><circle cx="436.55" cy="517.15" r="2.15"/><circle cx="443.05" cy="517.15" r="2.15"/></g><circle cx="190.3" cy="423.2" r="8.8" fill="#2f7f12" fill-opacity="0.85"/><circle cx="190.3" cy="450.6" r="11.7" fill="#2f7f12" fill-opacity="0.85"/><circle cx="216.3" cy="488.7" r="6.2" fill="#2f7f12" fill-opacity="0.85"/><circle cx="240.5" cy="506.9" r="8" fill="#2f7f12" fill-opacity="0.85"/><circle cx="311.7" cy="409.5" r="9.5" fill="#2f7f12" fill-opacity="0.85"/><circle cx="323.4" cy="418.9" r="6.5" fill="#2f7f12" fill-opacity="0.85"/><circle cx="292.2" cy="425.9" r="10.5" fill="#2f7f12" fill-opacity="0.85"/><circle cx="306.25" cy="423.6" r="8.5" fill="#2f7f12" fill-opacity="0.85"/><circle cx="300" cy="432" r="9.5" fill="#2f7f12" fill-opacity="0.85"/><circle cx="284.5" cy="436" r="8.5" fill="#2f7f12" fill-opacity="0.85"/><circle cx="307.5" cy="431" r="7" fill="#2f7f12" fill-opacity="0.85"/><circle cx="309" cy="454.4" r="6" fill="#2f7f12" fill-opacity="0.85"/><circle cx="330.5" cy="434" r="6" fill="#2f7f12" fill-opacity="0.85"/><circle cx="397.7" cy="413.4" r="8.5" fill="#2f7f12" fill-opacity="0.85"/><circle cx="289" cy="450.75" r="10.5" fill="#2f7f12" fill-opacity="0.85"/><circle cx="332.5" cy="448" r="7" fill="#2f7f12" fill-opacity="0.85"/><circle cx="351.5" cy="456" r="8" fill="#2f7f12" fill-opacity="0.85"/><circle cx="379.7" cy="471.8" r="7.5" fill="#2f7f12" fill-opacity="0.85"/><circle cx="405.2" cy="455.9" r="10.8" fill="#2f7f12" fill-opacity="0.85"/><circle cx="428.9" cy="456" r="7.9" fill="#2f7f12" fill-opacity="0.85"/><circle cx="415.6" cy="496" r="8" fill="#2f7f12" fill-opacity="0.85"/><circle cx="189.3" cy="471.2" r="7.0" fill="#62a222" fill-opacity="0.85"/><circle cx="222.4" cy="474.2" r="4.5" fill="#62a222" fill-opacity="0.85"/><circle cx="215.1" cy="485.1" r="4.8" fill="#62a222" fill-opacity="0.85"/><circle cx="213.3" cy="497.8" r="6.8" fill="#62a222" fill-opacity="0.85"/><circle cx="218.7" cy="506.3" r="6.8" fill="#62a222" fill-opacity="0.85"/><circle cx="276.9" cy="406.7" r="7" fill="#62a222" fill-opacity="0.85"/><circle cx="324.2" cy="407.2" r="7.5" fill="#62a222" fill-opacity="0.85"/><circle cx="288.75" cy="460.6" r="7" fill="#62a222" fill-opacity="0.85"/><circle cx="299.7" cy="465.3" r="7" fill="#62a222" fill-opacity="0.85"/><circle cx="326.25" cy="466.9" r="6" fill="#62a222" fill-opacity="0.85"/><circle cx="328.1" cy="467.9" r="7" fill="#62a222" fill-opacity="0.85"/><circle cx="342.2" cy="471.8" r="7" fill="#62a222" fill-opacity="0.85"/><circle cx="368.75" cy="463.25" r="7" fill="#62a222" fill-opacity="0.85"/><circle cx="442.4" cy="456" r="7.7" fill="#62a222" fill-opacity="0.85"/><circle cx="403.1" cy="481.2" r="7" fill="#62a222" fill-opacity="0.85"/><circle cx="425" cy="484.3" r="7.5" fill="#62a222" fill-opacity="0.85"/><circle cx="404.7" cy="494.5" r="7" fill="#62a222" fill-opacity="0.85"/><circle cx="226" cy="476" r="4.9" fill="#f5bd12" fill-opacity="0.85"/><circle cx="208.5" cy="486.3" r="5" fill="#f5bd12" fill-opacity="0.85"/><circle cx="322.7" cy="425.2" r="7.5" fill="#f5bd12" fill-opacity="0.85"/><circle cx="327" cy="431" r="6" fill="#f5bd12" fill-opacity="0.85"/><circle cx="327.8" cy="438.75" r="6" fill="#f5bd12" fill-opacity="0.85"/><circle cx="317" cy="437" r="7" fill="#f5bd12" fill-opacity="0.85"/><circle cx="321.5" cy="454.4" r="5" fill="#f5bd12" fill-opacity="0.85"/><circle cx="367.2" cy="437.4" r="6" fill="#f5bd12" fill-opacity="0.85"/><circle cx="298.1" cy="446.6" r="6" fill="#f5bd12" fill-opacity="0.85"/><circle cx="307.5" cy="457.5" r="6" fill="#f5bd12" fill-opacity="0.85"/><circle cx="326.6" cy="440.6" r="6" fill="#f5bd12" fill-opacity="0.85"/><circle cx="346.9" cy="449.2" r="4.5" fill="#f5bd12" fill-opacity="0.85"/><circle cx="329.4" cy="456" r="4.5" fill="#f5bd12" fill-opacity="0.85"/><circle cx="346.9" cy="464.8" r="6" fill="#f5bd12" fill-opacity="0.85"/><circle cx="350" cy="467.9" r="5" fill="#f5bd12" fill-opacity="0.85"/><circle cx="365.6" cy="459.3" r="5" fill="#f5bd12" fill-opacity="0.85"/><circle cx="362.5" cy="447.6" r="5" fill="#f5bd12" fill-opacity="0.85"/><circle cx="295.3" cy="483.6" r="5" fill="#f5bd12" fill-opacity="0.85"/><circle cx="310.9" cy="490.6" r="5" fill="#f5bd12" fill-opacity="0.85"/><circle cx="228.4" cy="461.2" r="3.3" fill="#f7963a" fill-opacity="0.85"/><circle cx="212.7" cy="473" r="4.4" fill="#f7963a" fill-opacity="0.85"/><circle cx="230.8" cy="478.4" r="5.4" fill="#f7963a" fill-opacity="0.85"/><circle cx="222.4" cy="482.7" r="3.8" fill="#f7963a" fill-opacity="0.85"/><circle cx="203" cy="480.9" r="4.7" fill="#f7963a" fill-opacity="0.85"/><circle cx="227.2" cy="488.7" r="4.3" fill="#f7963a" fill-opacity="0.85"/><circle cx="241.1" cy="493" r="3.7" fill="#f7963a" fill-opacity="0.85"/><circle cx="228.4" cy="511.1" r="3" fill="#f7963a" fill-opacity="0.85"/><circle cx="219.5" cy="477.5" r="3.5" fill="#f7963a" fill-opacity="0.85"/><circle cx="289.4" cy="413.6" r="5" fill="#f7963a" fill-opacity="0.85"/><circle cx="291.9" cy="428.6" r="4.5" fill="#f7963a" fill-opacity="0.85"/><circle cx="294.2" cy="437.2" r="5" fill="#f7963a" fill-opacity="0.85"/><circle cx="290.3" cy="454.4" r="3.5" fill="#f7963a" fill-opacity="0.85"/><circle cx="306.7" cy="440.3" r="4" fill="#f7963a" fill-opacity="0.85"/><circle cx="307.5" cy="446.6" r="5" fill="#f7963a" fill-opacity="0.85"/><circle cx="318.4" cy="447.3" r="6" fill="#f7963a" fill-opacity="0.85"/><circle cx="320" cy="448" r="6" fill="#f7963a" fill-opacity="0.85"/><circle cx="312.5" cy="455.4" r="4" fill="#f7963a" fill-opacity="0.85"/><circle cx="341.9" cy="448.1" r="5" fill="#f7963a" fill-opacity="0.85"/><circle cx="334.4" cy="461.7" r="5" fill="#f7963a" fill-opacity="0.85"/><circle cx="355.5" cy="475" r="5" fill="#f7963a" fill-opacity="0.85"/><circle cx="375" cy="449.2" r="5" fill="#f7963a" fill-opacity="0.85"/><circle cx="391.4" cy="471" r="4.5" fill="#f7963a" fill-opacity="0.85"/><circle cx="281.25" cy="480.4" r="4.5" fill="#f7963a" fill-opacity="0.85"/><circle cx="286" cy="485.9" r="4" fill="#f7963a" fill-opacity="0.85"/><circle cx="293" cy="478.9" r="3.5" fill="#f7963a" fill-opacity="0.85"/><circle cx="295.3" cy="489" r="4.5" fill="#f7963a" fill-opacity="0.85"/><circle cx="306.25" cy="478.1" r="5" fill="#f7963a" fill-opacity="0.85"/><circle cx="304.7" cy="486.7" r="5" fill="#f7963a" fill-opacity="0.85"/><circle cx="312.5" cy="497.6" r="3.5" fill="#f7963a" fill-opacity="0.85"/><circle cx="321.1" cy="499.2" r="4.5" fill="#f7963a" fill-opacity="0.85"/><circle cx="329.7" cy="496.8" r="5" fill="#f7963a" fill-opacity="0.85"/><circle cx="336.7" cy="496" r="4.5" fill="#f7963a" fill-opacity="0.85"/><circle cx="337.5" cy="480.4" r="3.5" fill="#f7963a" fill-opacity="0.85"/><circle cx="341.4" cy="485.1" r="4" fill="#f7963a" fill-opacity="0.85"/><circle cx="339" cy="487.5" r="3" fill="#f7963a" fill-opacity="0.85"/><circle cx="343.75" cy="508.6" r="4.5" fill="#f7963a" fill-opacity="0.85"/><circle cx="325.8" cy="509.3" r="3.5" fill="#f7963a" fill-opacity="0.85"/><circle cx="381.25" cy="488.25" r="5" fill="#f7963a" fill-opacity="0.85"/><circle cx="411" cy="479.7" r="5" fill="#f7963a" fill-opacity="0.85"/><circle cx="417.2" cy="490.6" r="3.5" fill="#f7963a" fill-opacity="0.85"/><circle cx="448.1" cy="482.8" r="4.5" fill="#f7963a" fill-opacity="0.85"/><circle cx="253.1" cy="376.4" r="2.0" fill="#f4a6b8" fill-opacity="0.85"/><circle cx="216.3" cy="470.6" r="2.7" fill="#f4a6b8" fill-opacity="0.85"/><circle cx="230.2" cy="477.8" r="2.7" fill="#f4a6b8" fill-opacity="0.85"/><circle cx="232" cy="482.7" r="3" fill="#f4a6b8" fill-opacity="0.85"/><circle cx="224.2" cy="483.9" r="2.2" fill="#f4a6b8" fill-opacity="0.85"/><circle cx="204.3" cy="479.1" r="2.2" fill="#f4a6b8" fill-opacity="0.85"/><circle cx="234.5" cy="491.8" r="2.7" fill="#f4a6b8" fill-opacity="0.85"/><circle cx="238.1" cy="492.4" r="2.4" fill="#f4a6b8" fill-opacity="0.85"/><circle cx="226.5" cy="481.5" r="3" fill="#f4a6b8" fill-opacity="0.85"/><circle cx="404.4" cy="441.25" r="2.5" fill="#f4a6b8" fill-opacity="0.85"/><circle cx="315.3" cy="466.9" r="2.5" fill="#f4a6b8" fill-opacity="0.85"/><circle cx="336.7" cy="457.8" r="2.5" fill="#f4a6b8" fill-opacity="0.85"/><circle cx="384.4" cy="465.6" r="2" fill="#f4a6b8" fill-opacity="0.85"/><circle cx="397.7" cy="474.2" r="2.5" fill="#f4a6b8" fill-opacity="0.85"/><circle cx="281.25" cy="484.3" r="2" fill="#f4a6b8" fill-opacity="0.85"/><circle cx="299.2" cy="486.7" r="3" fill="#f4a6b8" fill-opacity="0.85"/><circle cx="307.8" cy="496" r="3" fill="#f4a6b8" fill-opacity="0.85"/><circle cx="315.6" cy="467.6" r="2.5" fill="#f4a6b8" fill-opacity="0.85"/><circle cx="316.4" cy="480.4" r="2" fill="#f4a6b8" fill-opacity="0.85"/><circle cx="318" cy="489.8" r="2" fill="#f4a6b8" fill-opacity="0.85"/><circle cx="328.1" cy="479.7" r="2" fill="#f4a6b8" fill-opacity="0.85"/><circle cx="346.9" cy="491.4" r="2" fill="#f4a6b8" fill-opacity="0.85"/><circle cx="332.8" cy="503.1" r="2.5" fill="#f4a6b8" fill-opacity="0.85"/><circle cx="351.6" cy="503.9" r="2" fill="#f4a6b8" fill-opacity="0.85"/><circle cx="314.8" cy="509.3" r="2" fill="#f4a6b8" fill-opacity="0.85"/><circle cx="286" cy="475" r="2" fill="#f4a6b8" fill-opacity="0.85"/><circle cx="286.7" cy="489.8" r="2.5" fill="#f4a6b8" fill-opacity="0.85"/><circle cx="373.4" cy="493.7" r="2.5" fill="#f4a6b8" fill-opacity="0.85"/><circle cx="271.9" cy="481.2" r="1.5" fill="#f36f6f" fill-opacity="0.85"/><circle cx="448.3" cy="480.6" r="1.6" fill="#ef5a4f" fill-opacity="0.85"/><text x="190.3" y="424.90" text-anchor="middle" font-size="5.2" font-weight="bold" fill="#fff" stroke="rgba(0,0,0,0.06)" stroke-width="0.5" paint-order="stroke">Canada</text><text x="190.3" y="452.30" text-anchor="middle" font-size="5.2" font-weight="bold" fill="#fff" stroke="rgba(0,0,0,0.06)" stroke-width="0.5" paint-order="stroke">United States of America</text><text x="213.3" y="499.50" text-anchor="middle" font-size="5.2" font-weight="bold" fill="#fff" stroke="rgba(0,0,0,0.06)" stroke-width="0.5" paint-order="stroke">Ecuador</text><text x="240.5" y="508.60" text-anchor="middle" font-size="5.2" font-weight="bold" fill="#fff" stroke="rgba(0,0,0,0.06)" stroke-width="0.5" paint-order="stroke">Brazil</text><text x="313.75" y="412.80" text-anchor="middle" font-size="5.2" font-weight="bold" fill="#fff" stroke="rgba(0,0,0,0.06)" stroke-width="0.5" paint-order="stroke">Sweden</text><text x="306.25" y="426.90" text-anchor="middle" font-size="5.2" font-weight="bold" fill="#fff" stroke="rgba(0,0,0,0.06)" stroke-width="0.5" paint-order="stroke">Denmark</text><text x="306.25" y="435.45" text-anchor="middle" font-size="5.2" font-weight="bold" fill="#fff" stroke="rgba(0,0,0,0.06)" stroke-width="0.5" paint-order="stroke">Germany</text><text x="289" y="452.45" text-anchor="middle" font-size="5.2" font-weight="bold" fill="#fff" stroke="rgba(0,0,0,0.06)" stroke-width="0.5" paint-order="stroke">Spain</text><text x="308.6" y="448.50" text-anchor="middle" font-size="5.2" font-weight="bold" fill="#fff" stroke="rgba(0,0,0,0.06)" stroke-width="0.5" paint-order="stroke">Italy</text><text x="333.6" y="454.00" text-anchor="middle" font-size="5.2" font-weight="bold" fill="#fff" stroke="rgba(0,0,0,0.06)" stroke-width="0.5" paint-order="stroke">Turkey</text><text x="332.8" y="463.40" text-anchor="middle" font-size="5.2" font-weight="bold" fill="#fff" stroke="rgba(0,0,0,0.06)" stroke-width="0.5" paint-order="stroke">Israel</text><text x="342.2" y="472.00" text-anchor="middle" font-size="5.2" font-weight="bold" fill="#fff" stroke="rgba(0,0,0,0.06)" stroke-width="0.5" paint-order="stroke">Saudi Arabia</text><text x="368" y="464.95" text-anchor="middle" font-size="5.2" font-weight="bold" fill="#fff" stroke="rgba(0,0,0,0.06)" stroke-width="0.5" paint-order="stroke">Pakistan</text><text x="379.7" y="473.50" text-anchor="middle" font-size="5.2" font-weight="bold" fill="#fff" stroke="rgba(0,0,0,0.06)" stroke-width="0.5" paint-order="stroke">India</text><text x="405.2" y="457.60" text-anchor="middle" font-size="5.2" font-weight="bold" fill="#fff" stroke="rgba(0,0,0,0.06)" stroke-width="0.5" paint-order="stroke">China</text><text x="441.4" y="457.10" text-anchor="middle" font-size="5.2" font-weight="bold" fill="#fff" stroke="rgba(0,0,0,0.06)" stroke-width="0.5" paint-order="stroke">Japan</text><text x="397.7" y="415.10" text-anchor="middle" font-size="5.2" font-weight="bold" fill="#fff" stroke="rgba(0,0,0,0.06)" stroke-width="0.5" paint-order="stroke">Russian Federation</text><text x="425" y="486.00" text-anchor="middle" font-size="5.2" font-weight="bold" fill="#fff" stroke="rgba(0,0,0,0.06)" stroke-width="0.5" paint-order="stroke">Philippines</text><text x="411.7" y="496.20" text-anchor="middle" font-size="5.2" font-weight="bold" fill="#fff" stroke="rgba(0,0,0,0.06)" stroke-width="0.5" paint-order="stroke">Malaysia</text></g></svg>
<div class="card" style="left:569.9px;top:332.2px;width:470px;height:190px"></div>
<div class="abs" style="left:569.9px;top:360px;width:470px;height:1px;background:#f0f0f0"></div>
<div class="tx" style="left:581.9px;top:342.7px;font-size:8.2px;color:#262626;-webkit-text-stroke:0.1px #262626">Rules Breakdown</div>
<svg style="left:0;top:0" width="1024" height="512"><g fill="#666"><circle cx="1016" cy="346.4" r="0.6"/><circle cx="1018.8" cy="346.4" r="0.6"/><circle cx="1021.6" cy="346.4" r="0.6"/></g></svg>
<div class="abs" style="left:0;top:440px;width:1024px;height:72px;background:radial-gradient(ellipse 330px 46px at 530px 92px,rgba(0,0,0,0.15),rgba(0,0,0,0) 100%)"></div>
<svg style="left:0;top:0" width="1024" height="512"><path d="M802.50 398.70 A57.3 57.3 0 0 1 839.77 499.52 L826.57 484.10 A37 37 0 0 0 802.50 419.00 Z" fill="#5b8ff9" stroke="#fff" stroke-width="0.8"/><path d="M839.77 499.52 A57.3 57.3 0 0 1 757.21 491.10 L773.25 478.66 A37 37 0 0 0 826.57 484.10 Z" fill="#5ad8a6" stroke="#fff" stroke-width="0.8"/><path d="M757.21 491.10 A57.3 57.3 0 0 1 764.90 412.76 L778.22 428.08 A37 37 0 0 0 773.25 478.66 Z" fill="#5d7092" stroke="#fff" stroke-width="0.8"/><path d="M764.90 412.76 A57.3 57.3 0 0 1 776.70 404.84 L785.84 422.96 A37 37 0 0 0 778.22 428.08 Z" fill="#f6bd16" stroke="#fff" stroke-width="0.8"/><path d="M776.70 404.84 A57.3 57.3 0 0 1 789.24 400.26 L793.94 420.00 A37 37 0 0 0 785.84 422.96 Z" fill="#e8684a" stroke="#fff" stroke-width="0.8"/><path d="M789.24 400.26 A57.3 57.3 0 0 1 802.50 398.70 L802.50 419.00 A37 37 0 0 0 793.94 420.00 Z" fill="#6dc8ec" stroke="#fff" stroke-width="0.8"/><g fill="none" stroke="#cfcfcf" stroke-width="0.6"><polyline points="736.5,382.3 796.2,382.3 797.6,397"/><polyline points="736.5,400.1 741,400.1 743,395.6 789,395.6 791.4,401.5"/><polyline points="736.5,417.9 737.5,417.9 743.5,402.6 769.6,402.6 772.5,408"/><polyline points="736.5,449.6 741,449.6 745.5,449.9"/><polyline points="867.5,433.6 863,433.6 857.5,435"/></g><text x="734.3" y="384.20" font-size="5.8" fill="#595959" text-anchor="end">PEP Hit: 31</text><text x="734.3" y="402.00" font-size="5.8" fill="#595959" text-anchor="end">UN Sanctions Hit: 31</text><text x="734.3" y="419.80" font-size="5.8" fill="#595959" text-anchor="end">TC40 Hit: 33</text><text x="734.3" y="451.50" font-size="5.8" fill="#595959" text-anchor="end">Others: 201</text><text x="870.2" y="435.50" font-size="5.8" fill="#595959" text-anchor="start">Proof of Funds: 323</text><text x="673.3" y="513.10" font-size="5.8" fill="#595959" text-anchor="start">High Risk Country: 215</text><text x="802.5" y="442.7" font-size="6.9" fill="#8c8c8c" text-anchor="middle">Total Hits</text><text transform="translate(802.80 468.6) scale(1.12 1)" x="0" y="0" font-size="15.2" fill="#383838" stroke="#383838" stroke-width="0.55" text-anchor="middle" letter-spacing="0.7">835</text></svg>
</body></html>
